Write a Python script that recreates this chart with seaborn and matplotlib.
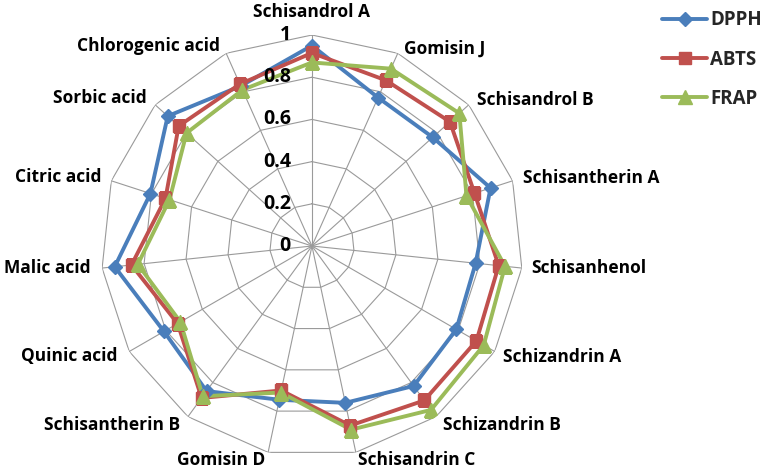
"""
Radar chart - antioxidant activity (DPPH, ABTS, FRAP)
"""

import numpy as np
import pandas as pd
import matplotlib
matplotlib.use('Agg')
import matplotlib.pyplot as plt
import seaborn as sns
from matplotlib.lines import Line2D

# Data
categories = ['Schisandrol A', 'Gomisin J', 'Schisandrol B', 'Schisantherin A',
              'Schisanhenol', 'Schizandrin A', 'Schizandrin B', 'Schisandrin C',
              'Gomisin D', 'Schisantherin B', 'Quinic acid', 'Malic acid',
              'Citric acid', 'Sorbic acid', 'Chlorogenic acid']
dpph = [0.95, 0.77, 0.77, 0.89, 0.78, 0.79, 0.82, 0.76, 0.745, 0.85, 0.81, 0.94, 0.805, 0.92, 0.83]
abts = [0.915, 0.86, 0.88, 0.81, 0.89, 0.90, 0.905, 0.87, 0.70, 0.89, 0.735, 0.86, 0.73, 0.85, 0.84]
frap = [0.87, 0.92, 0.94, 0.77, 0.92, 0.94, 0.96, 0.89, 0.71, 0.88, 0.72, 0.83, 0.71, 0.80, 0.81]
r_ticks = [0, 0.2, 0.4, 0.6, 0.8, 1]
r_labels = ['0', '0.2', '0.4', '0.6', '0.8', '1']

series = {'DPPH': dpph, 'ABTS': abts, 'FRAP': frap}
colors = {'DPPH': '#4A7EBB', 'ABTS': '#C0504D', 'FRAP': '#9BBB59'}
markers = {'DPPH': 'D', 'ABTS': 's', 'FRAP': '^'}
msizes = {'DPPH': 7, 'ABTS': 9, 'FRAP': 10}

# label offsets (pixels) and alignment around the outer ring
label_pos = [(0, 23, 'center'), (6, 5, 'left'), (8, 5, 'left'), (10, 3, 'left'),
             (9, 0, 'left'), (8, -6, 'left'), (7, -8, 'left'), (2, -8, 'left'),
             (-3, -8, 'right'), (-8, -8, 'right'), (-12, -5, 'right'), (-12, 0, 'right'),
             (-10, 4, 'right'), (-8, 7, 'right'), (-6, 7, 'right')]

sns.set_theme(style='white')
plt.rcParams['font.family'] = ['Open Sans', 'DejaVu Sans']
fs = 12.5

n = len(categories)
theta = np.linspace(0, 2 * np.pi, n, endpoint=False)
theta_closed = np.append(theta, 2 * np.pi)

rows = []
for name, vals in series.items():
    for t, v in zip(theta_closed, vals + vals[:1]):
        rows.append({'theta': t, 'value': v, 'series': name})
df = pd.DataFrame(rows)

fig = plt.figure(figsize=(7.62, 4.72), dpi=100)
ax = fig.add_axes([0.1325, 0.0318, 0.5538, 0.894], projection='polar')
ax.set_theta_zero_location('N')
ax.set_theta_direction(-1)
ax.set_ylim(0, 1)
ax.grid(False)
ax.spines['polar'].set_visible(False)
ax.set_xticks([])
ax.set_yticks([])
ax.patch.set_alpha(0)

# polygon gridlines like Excel
for r in r_ticks[1:]:
    ax.plot(theta_closed, [r] * (n + 1), color='#9A9A9A', lw=0.8, zorder=1)
for t in theta:
    ax.plot([t, t], [0, 1], color='#9A9A9A', lw=0.8, zorder=1)

sns.lineplot(data=df, x='theta', y='value', hue='series', palette=colors,
             sort=False, estimator=None, lw=2.8, legend=False, ax=ax, zorder=3)
for name, vals in series.items():
    ax.plot(theta, vals, ls='none', marker=markers[name], ms=msizes[name],
            color=colors[name], zorder=4)
ax.set_xlabel('')
ax.set_ylabel('')

for r, lab in zip(r_ticks, r_labels):
    ax.annotate(lab, xy=(0, r), xytext=(-21, 0), textcoords='offset pixels',
                ha='right', va='center', fontsize=14, fontweight='bold', color='black')

for t, lab, (dx, dy, ha) in zip(theta, categories, label_pos):
    ax.annotate(lab, xy=(t, 1.0), xytext=(dx, dy), textcoords='offset pixels',
                ha=ha, va='center', fontsize=fs, fontweight='bold', color='black',
                annotation_clip=False)

handles = [Line2D([0], [0], color=colors[k], lw=2.8, marker=markers[k],
                  ms=msizes[k]) for k in series]
fig.legend(handles, list(series.keys()), loc='upper left',
           bbox_to_anchor=(0.864, 0.986), frameon=False, handlelength=2.4,
           handletextpad=0.16, borderpad=0.2, borderaxespad=0,
           labelspacing=1.03, prop={'weight': 'bold', 'size': 13.5})

fig.savefig('out.png', dpi=100)
